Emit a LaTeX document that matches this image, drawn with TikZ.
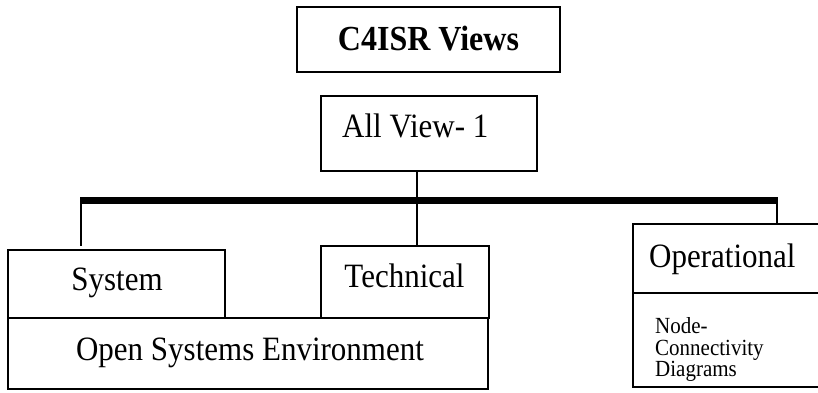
\documentclass[tikz,border=0pt]{standalone}
\usepackage{fontspec}
\setmainfont{Liberation Serif}
\newcommand{\stretchtxt}[1]{\scalebox{1}[1.1]{#1}}
\begin{document}
\begin{tikzpicture}[x=1pt,y=-1pt,
  box/.style={draw,line width=1.6pt,rectangle,inner sep=0pt,outer sep=0pt,anchor=north west},
  conn/.style={draw,line width=1.5pt},
  bigtxt/.style={font=\fontsize{31}{31}\selectfont,inner sep=0pt},
  smalltxt/.style={font=\fontsize{21}{21}\selectfont,inner sep=0pt,align=left}]
\useasboundingbox (0,0) rectangle (818,392);
% boxes
\node[box,minimum width=263pt,minimum height=65pt] (c4) at (297,7) {};
\node[box,minimum width=216pt,minimum height=75pt] (all) at (321,96) {};
\node[box,minimum width=217pt,minimum height=68pt] (sys) at (8,250) {};
\node[box,minimum width=168pt,minimum height=72pt] (tech) at (321,246) {};
\node[box,minimum width=480pt,minimum height=71pt] (ose) at (8,318) {};
\node[box,minimum width=200pt,minimum height=69pt] (optop) at (633,224) {};
\node[box,minimum width=200pt,minimum height=94pt] (opbot) at (633,293) {};
% texts
\node[inner sep=0pt,font=\fontsize{32}{32}\selectfont\bfseries,anchor=base] (c4t) at (428.5,50) {\stretchtxt{C4ISR Views}};
\node[bigtxt,anchor=base west] (allt) at (342,137) {\stretchtxt{All View- 1}};
\node[bigtxt,anchor=base] (syst) at (117,290) {\stretchtxt{System}};
\node[bigtxt,anchor=base] (techt) at (404.5,287) {\stretchtxt{Technical}};
\node[bigtxt,anchor=base] (oset) at (250,360) {\stretchtxt{Open Systems Environment}};
\node[bigtxt,anchor=base west] (opt) at (649,267) {\stretchtxt{Operational}};
\node[smalltxt,anchor=base west] (n1) at (655,333) {\stretchtxt{Node-}};
\node[smalltxt,anchor=base west] (n2) at (655,355) {\stretchtxt{Connectivity}};
\node[smalltxt,anchor=base west] (n3) at (655,376) {\stretchtxt{Diagrams}};
% connectors
\coordinate (barL) at (81,200);
\coordinate (barR) at (777,200);
\coordinate (barM) at (417,200);
\coordinate (sysdrop) at (81,246);
\draw[conn] (all.south -| barM) -- (tech.north -| barM);
\draw[conn] (barL) -- (sysdrop);
\draw[conn] (barR) -- (optop.north -| barR);
\draw[line width=7pt] ([xshift=-0.75pt]barL) -- ([xshift=0.75pt]barR);
\end{tikzpicture}
\end{document}
